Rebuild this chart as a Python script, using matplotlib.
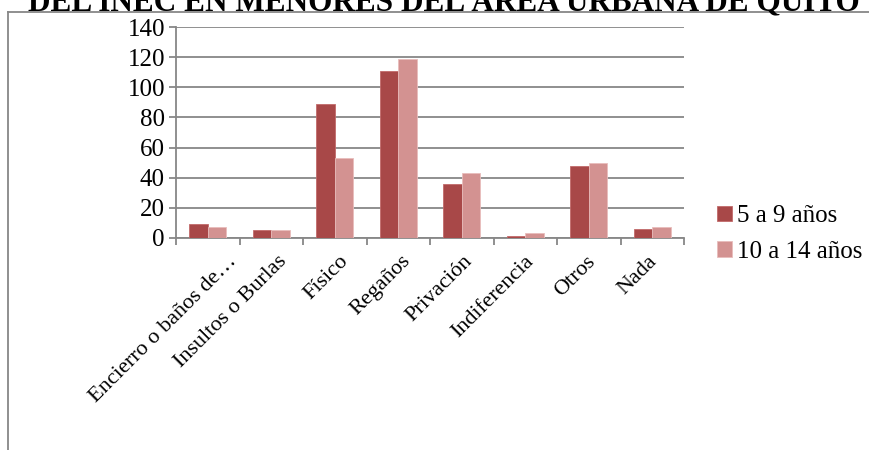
import numpy as np
import matplotlib.pyplot as plt
from matplotlib.lines import Line2D

categorias = ['Encierro o baños de…', 'Insultos o Burlas', 'Físico', 'Regaños',
              'Privación', 'Indiferencia', 'Otros', 'Nada']
edad_5_9 = [9, 5, 89, 111, 36, 1, 48, 6]
edad_10_14 = [7, 5, 53, 119, 43, 3, 50, 7]
series = ['5 a 9 años', '10 a 14 años']
titulo = 'DEL INEC EN MENORES DEL ÁREA URBANA DE QUITO'

plt.rcParams['font.family'] = ['Liberation Serif', 'DejaVu Serif']

fig = plt.figure(figsize=(8.69, 4.5), dpi=100)
ax = fig.add_axes([176 / 869, 1 - 238 / 450, (684 - 176) / 869, (238 - 27) / 450])

x = np.arange(len(categorias))
w = 0.29
ax.bar(x - w / 2, edad_5_9, w, color='#A84848', edgecolor='#C26A6A', linewidth=0.6,
       label=series[0], zorder=3)
ax.bar(x + w / 2, edad_10_14, w, color='#D39291', edgecolor='#E8BDBC', linewidth=0.6,
       label=series[1], zorder=3)

gris = '#878787'
ax.set_xlim(-0.5, len(categorias) - 0.5)
ax.set_ylim(0, 140)
ax.set_yticks(range(0, 141, 20))
ax.yaxis.grid(True, color=gris, linewidth=1.3, zorder=0)
for s in ['top', 'right']:
    ax.spines[s].set_visible(False)
ax.spines['left'].set_color(gris)
ax.spines['bottom'].set_color(gris)
ax.spines['left'].set_linewidth(1.3)
ax.spines['bottom'].set_linewidth(1.3)

# las etiquetas de Excel quedan un poco desplazadas respecto al centro
desplazamiento = np.array([0.3, 0.1, 0.06, 0.04, 0.02, -0.01, -0.05, -0.08])
ax.set_xticks(np.arange(-0.5, len(categorias), 1))
ax.set_xticklabels([])
ax.set_xticks(x + desplazamiento, minor=True)
ax.set_xticklabels(categorias, minor=True, rotation=45, ha='right',
                   rotation_mode='anchor', fontsize=16)
ax.tick_params(axis='x', which='minor', length=0, pad=10)
ax.tick_params(axis='x', which='major', length=5, color=gris, width=1.3)
ax.tick_params(axis='y', length=5, color=gris, width=1.3, labelsize=18, pad=3)

ax.legend(loc='center left', bbox_to_anchor=(1.02, 0.018), frameon=False,
          fontsize=18, handlelength=0.6, handleheight=0.6, handletextpad=0.2,
          labelspacing=0.55)

# marco del gráfico
fig.add_artist(Line2D([8 / 869, 8 / 869], [0, 1 - 12 / 450], transform=fig.transFigure,
                      color=gris, linewidth=1.3))
fig.add_artist(Line2D([8 / 869, 1], [1 - 12 / 450, 1 - 12 / 450], transform=fig.transFigure,
                      color=gris, linewidth=1.3))

fig.text(444 / 869, 1 - 11 / 450, titulo, ha='center', va='baseline',
         fontsize=22.5, fontweight='bold')

plt.savefig('out.png', dpi=100)
